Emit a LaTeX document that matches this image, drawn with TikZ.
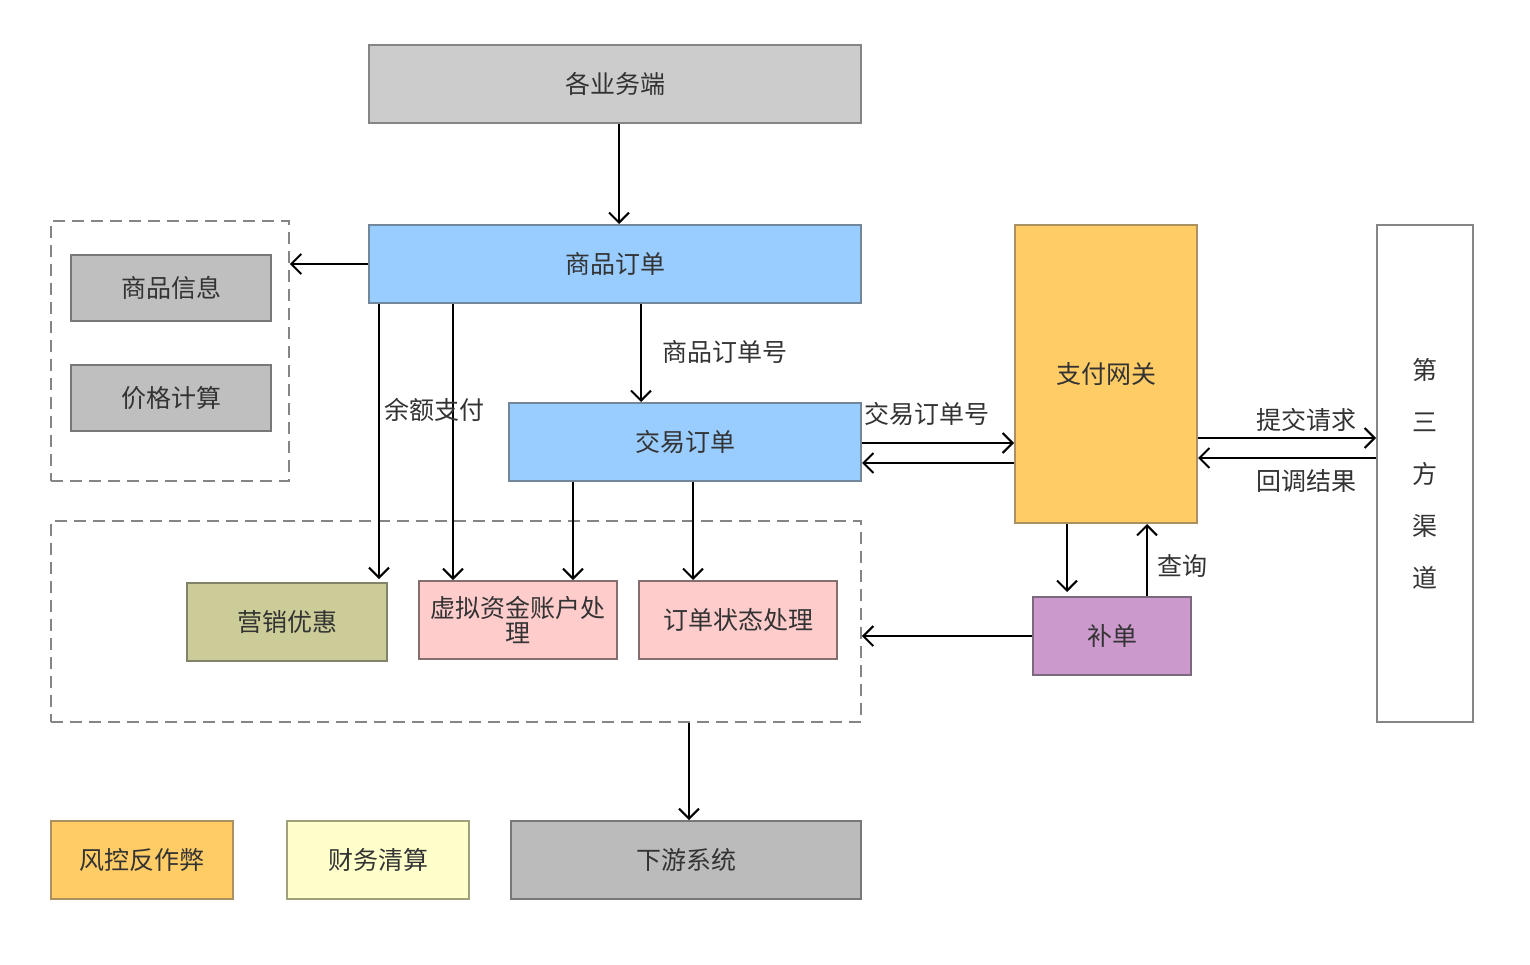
\documentclass[tikz,border=0pt]{standalone}
\usepackage{fontspec}
\setmainfont{Noto Sans CJK SC}
\usetikzlibrary{arrows.meta}
\definecolor{txt}{HTML}{333333}
\definecolor{bordg}{HTML}{858585}
\definecolor{bordd}{HTML}{787878}
\definecolor{fgray}{HTML}{CCCCCC}
\definecolor{fgray2}{HTML}{BFBFBF}
\definecolor{fgray3}{HTML}{BBBBBB}
\definecolor{bblue}{HTML}{73879B}
\definecolor{fblue}{HTML}{99CCFF}
\definecolor{borange}{HTML}{AA915F}
\definecolor{forange}{HTML}{FFCC66}
\definecolor{bolive}{HTML}{828269}
\definecolor{folive}{HTML}{CCCC99}
\definecolor{bpink}{HTML}{876E6E}
\definecolor{fpink}{HTML}{FFCCCC}
\definecolor{bpurple}{HTML}{7D697D}
\definecolor{fpurple}{HTML}{CC99CC}
\definecolor{byellow}{HTML}{A0A07D}
\definecolor{fyellow}{HTML}{FFFFCC}
\begin{document}
\begin{tikzpicture}[x=1pt,y=-1pt,
  box/.style={draw=#1, line width=2pt, inner sep=0pt, text=txt, font=\fontsize{25}{25}\selectfont, align=center},
  dbox/.style={draw=bordg, line width=1.8pt, dash pattern=on 12pt off 7pt, inner sep=0pt},
  lbl/.style={text=txt, font=\fontsize{25}{25}\selectfont, inner sep=0pt},
  arr/.style={draw=black, line width=2pt, -{Straight Barb[length=10pt,width=20pt,line width=2pt]}}]
\useasboundingbox (0,0) rectangle (1530,964);
\fill[white] (0,0) rectangle (1530,964);
% dashed groups
\node[dbox, minimum width=238pt, minimum height=260pt] (dashL) at (170,351) {};
\node[dbox, minimum width=810pt, minimum height=201pt] (dashB) at (456,621.5) {};
% boxes
\node[box=bordg, fill=fgray, minimum width=492pt, minimum height=78pt] (top) at (615,84) {各业务端};
\node[box=bblue, fill=fblue, minimum width=492pt, minimum height=78pt] (sp) at (615,264) {商品订单};
\node[box=bblue, fill=fblue, minimum width=352pt, minimum height=78pt] (jy) at (685,442) {交易订单};
\node[box=borange, fill=forange, minimum width=182pt, minimum height=298pt] (zf) at (1106,374) {支付网关};
\node[box=bordg, fill=white, minimum width=96pt, minimum height=497pt, font=\fontsize{25}{52}\selectfont] (sf) at (1425,473.5) {第\\三\\方\\渠\\道};
\node[box=bordd, fill=fgray2, minimum width=200pt, minimum height=66pt] (spxx) at (171,288) {商品信息};
\node[box=bordd, fill=fgray2, minimum width=200pt, minimum height=66pt] (jg) at (171,398) {价格计算};
\node[box=bolive, fill=folive, minimum width=200pt, minimum height=78pt] (yx) at (287,622) {营销优惠};
\node[box=bpink, fill=fpink, minimum width=198pt, minimum height=78pt] (xn) at (518,620) {虚拟资金账户处\\理};
\node[box=bpink, fill=fpink, minimum width=198pt, minimum height=78pt] (dd) at (738,620) {订单状态处理};
\node[box=bpurple, fill=fpurple, minimum width=158pt, minimum height=78pt] (bd) at (1112,636) {补单};
\node[box=borange, fill=forange, minimum width=182pt, minimum height=78pt] (fk) at (142,860) {风控反作弊};
\node[box=byellow, fill=fyellow, minimum width=182pt, minimum height=78pt] (cw) at (378,860) {财务清算};
\node[box=bordd, fill=fgray3, minimum width=350pt, minimum height=78pt] (xy) at (686,860) {下游系统};
% helper coordinates
\coordinate (c1) at (379,0);
\coordinate (c2) at (453,0);
\coordinate (c3) at (641,0);
\coordinate (c4) at (573,0);
\coordinate (c5) at (693,0);
\coordinate (c6) at (1067,0);
\coordinate (c7) at (1147,0);
\coordinate (c8) at (689,0);
\coordinate (c9) at (619,0);
\coordinate (r1) at (0,443);
\coordinate (r2) at (0,463);
\coordinate (r3) at (0,438);
\coordinate (r4) at (0,458);
% arrows
\draw[arr] (top.south -| c9) -- (sp.north -| c9);
\draw[arr] (sp.west) -- (dashL.east |- sp.west);
\draw[arr] (sp.south -| c1) -- ([yshift=3pt]yx.north -| c1);
\draw[arr] (sp.south -| c2) -- (xn.north -| c2);
\draw[arr] (sp.south -| c3) -- (jy.north -| c3);
\draw[arr] (jy.south -| c4) -- (xn.north -| c4);
\draw[arr] (jy.south -| c5) -- (dd.north -| c5);
\draw[arr] (jy.east |- r1) -- (zf.west |- r1);
\draw[arr] (zf.west |- r2) -- (jy.east |- r2);
\draw[arr] (zf.east |- r3) -- (sf.west |- r3);
\draw[arr] (sf.west |- r4) -- (zf.east |- r4);
\draw[arr] (zf.south -| c6) -- ([yshift=4pt]bd.north -| c6);
\draw[arr] (bd.north -| c7) -- (zf.south -| c7);
\draw[arr] (bd.west) -- (dashB.east |- bd.west);
\draw[arr] (dashB.south -| c8) -- (xy.north -| c8);
% labels
\node[lbl] (l1) at (434,410) {余额支付};
\node[lbl] (l2) at (725,352) {商品订单号};
\node[lbl] (l3) at (927,414) {交易订单号};
\node[lbl] (l4) at (1306,420) {提交请求};
\node[lbl] (l5) at (1306,481) {回调结果};
\node[lbl] (l6) at (1182,566) {查询};
\end{tikzpicture}
\end{document}
